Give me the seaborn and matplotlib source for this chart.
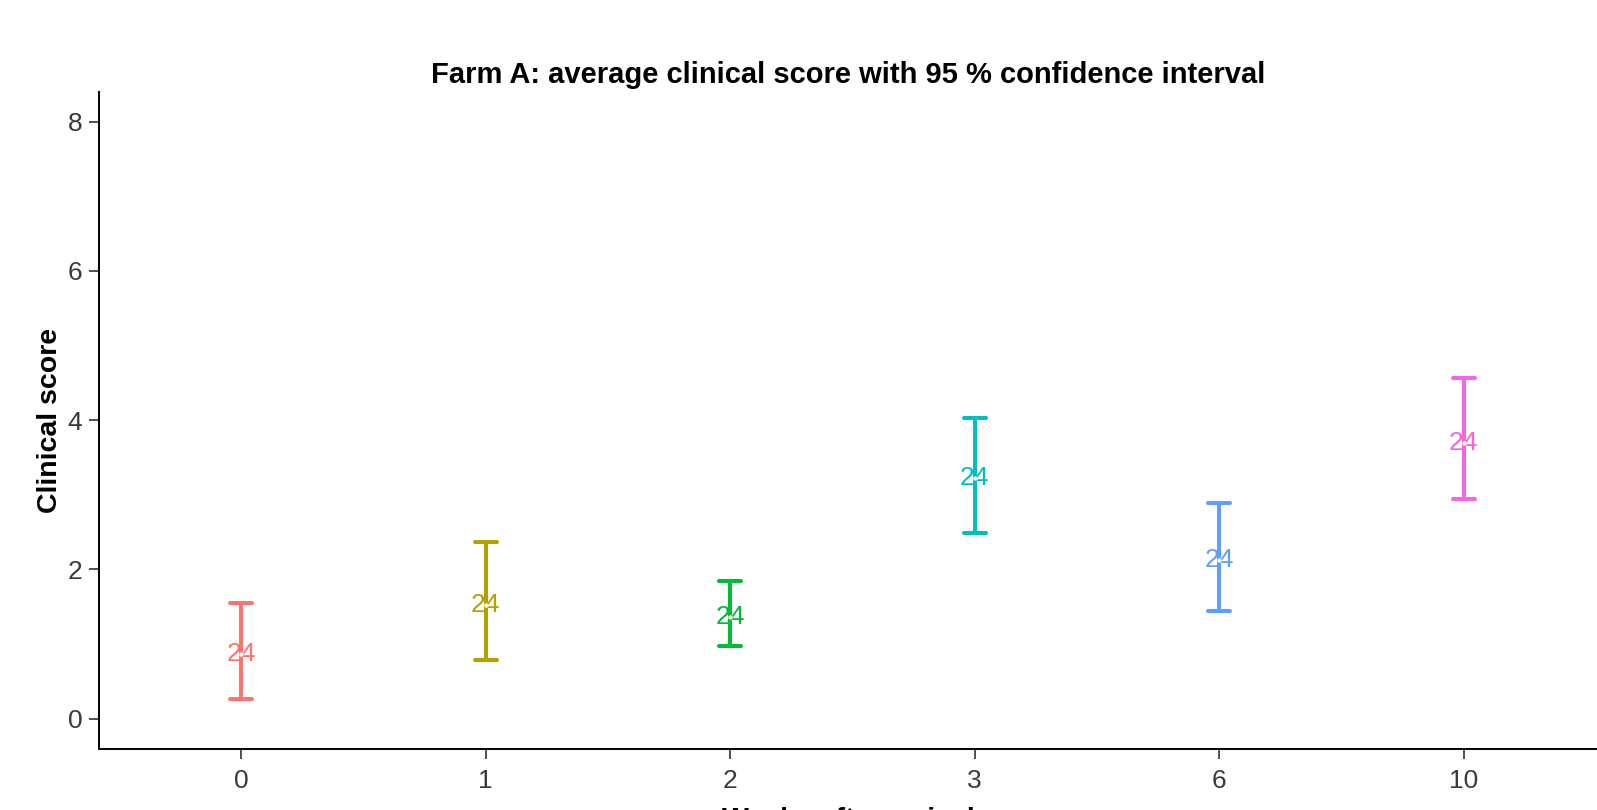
import numpy as np
import pandas as pd
import matplotlib
matplotlib.use("Agg")
import matplotlib.pyplot as plt
import seaborn as sns

weeks = ["0", "1", "2", "3", "6", "10"]
mean_score = [0.87, 1.53, 1.36, 3.22, 2.13, 3.69]
ci_low = [0.27, 0.79, 0.97, 2.49, 1.44, 2.94]
ci_high = [1.55, 2.37, 1.85, 4.03, 2.89, 4.57]
n_animals = [24, 24, 24, 24, 24, 24]
colors = ["#F8766D", "#B79F00", "#00BA38", "#00BFC4", "#619CFF", "#F564E3"]

sns.set_theme(style="ticks")
plt.rcParams["font.family"] = ["Liberation Sans", "DejaVu Sans"]

# long table: lower / mean / upper per week -> median gives the mean, min/max the CI
rows = []
for w, lo, m, hi in zip(weeks, ci_low, mean_score, ci_high):
    for v in (lo, m, hi):
        rows.append({"week": w, "score": v})
df = pd.DataFrame(rows)

fig = plt.figure(figsize=(15.97, 8.10), dpi=100)
ax = fig.add_axes([0.0619, 0.0758, 0.9381, 0.811])

sns.pointplot(data=df, x="week", y="score", hue="week", order=weeks,
              hue_order=weeks, palette=colors, estimator=np.median,
              errorbar=lambda v: (v.min(), v.max()), capsize=0.09,
              linestyle="none", marker="", err_kws={"linewidth": 2.9},
              legend=False, ax=ax)

for i, (m, n, c) in enumerate(zip(mean_score, n_animals, colors)):
    ax.text(i, m, str(n), color=c, ha="center", va="center", fontsize=19)
ax.scatter(range(len(weeks)), mean_score, s=10, color="white", zorder=5,
           linewidths=0)

ax.set_xlim(-0.583, 5.546)
ax.set_ylim(-0.4, 8.4)
ax.set_yticks([0, 2, 4, 6, 8])
ax.tick_params(axis="both", labelsize=19, length=7, width=1.2, color="#333333",
               labelcolor="#3A3A3A")
ax.tick_params(axis="x", pad=8)
ax.tick_params(axis="y", pad=5)
for s in ["left", "bottom"]:
    ax.spines[s].set_linewidth(1.4)
    ax.spines[s].set_color("black")
sns.despine(ax=ax)

ax.set_title("Farm A: average clinical score with 95 % confidence interval",
             fontsize=21, fontweight="bold", color="black", pad=6)
ax.set_ylabel("Clinical score", fontsize=20.5, fontweight="bold", color="black",
              labelpad=3)
ax.set_xlabel("Weeks after arrival", fontsize=20.5, fontweight="bold",
              color="black", labelpad=10)

fig.savefig("out.png", dpi=100)
